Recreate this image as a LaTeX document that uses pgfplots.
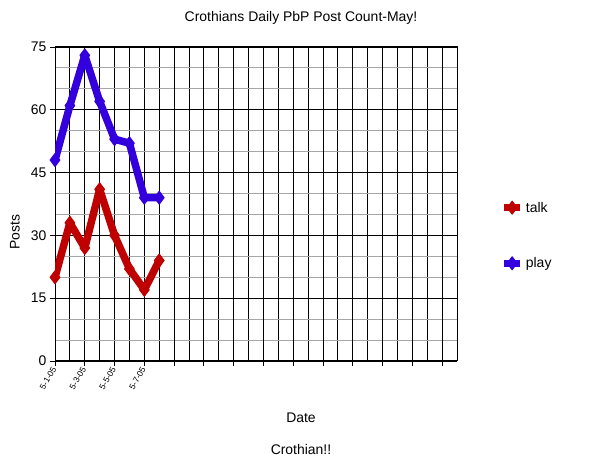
\documentclass[border=0pt]{standalone}
\usepackage{pgfplots}
\pgfplotsset{compat=1.18}
\usepackage{fontspec}
\setmainfont{Liberation Sans}
\definecolor{talkred}{RGB}{190,0,0}
\definecolor{playblue}{RGB}{51,0,221}
\begin{document}
\begin{tikzpicture}[x=1bp,y=1bp]
\useasboundingbox (0,0) rectangle (600,463);
\begin{axis}[
  at={(55bp,102bp)}, anchor=south west,
  scale only axis, width=402bp, height=314bp,
  xmin=0, xmax=27, ymin=0, ymax=75,
  axis line style={black, line width=1bp},
  xtick={0,2,4,6}, xticklabels={5-1-05,5-3-05,5-5-05,5-7-05},
  extra x ticks={8,10,...,26}, extra x tick labels={},
  extra x tick style={grid=major},
  minor xtick={1,3,...,27},
  ytick={0,15,...,75}, minor ytick={5,10,20,25,35,40,50,55,65,70},
  grid=both,
  major grid style={black, line width=0.9bp},
  minor x grid style={black, line width=0.9bp},
  minor y grid style={black!35, line width=0.9bp},
  tick align=outside, xtick pos=bottom, ytick pos=left,
  major tick length=5bp, minor tick length=0pt,
  tick style={black, line width=0.9bp},
  x tick label style={rotate=60, anchor=east, inner sep=1.5bp, font=\fontsize{8.5}{9}\selectfont},
  y tick label style={font=\fontsize{14}{16}\selectfont},
  /pgf/number format/assume math mode=true,
  legend style={draw=none, fill=none, at={(1.1,0.52)}, anchor=north west,
    font=\fontsize{14}{16}\selectfont, row sep=40bp},
  legend cell align=left,
  legend image code/.code={\draw[mark repeat=2,mark phase=2,#1] plot coordinates {(0bp,0bp)(8bp,0bp)(16bp,0bp)};},
]
\addplot[talkred, line width=7.5bp, line join=round, mark=diamond*, mark size=6.5bp, mark options={solid, line width=1bp, fill=talkred}]
  coordinates {(0,20) (1,33) (2,27) (3,41) (4,30) (5,22) (6,17) (7,24)};
\addlegendentry{talk}
\addplot[playblue, line width=7.5bp, line join=round, mark=diamond*, mark size=6.5bp, mark options={solid, line width=1bp, fill=playblue}]
  coordinates {(0,48) (1,61) (2,73) (3,62) (4,53) (5,52) (6,39) (7,39)};
\addlegendentry{play}
\end{axis}
\node[font=\fontsize{14}{16}\selectfont] at (301,445) {Crothians Daily PbP Post Count-May!};
\node[font=\fontsize{14}{16}\selectfont, rotate=90] at (15,231) {Posts};
\node[font=\fontsize{14}{16}\selectfont] at (301,45) {Date};
\node[font=\fontsize{14}{16}\selectfont] at (301,13) {Crothian!!};
\end{tikzpicture}
\end{document}
